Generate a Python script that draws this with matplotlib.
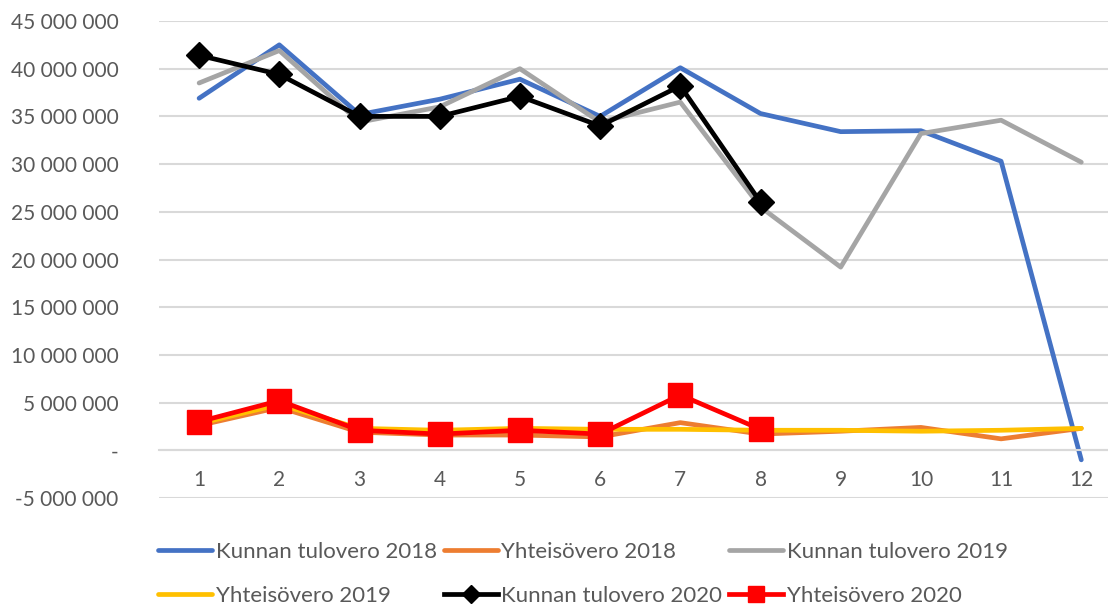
import matplotlib
matplotlib.use("Agg")
import matplotlib.pyplot as plt
from matplotlib.ticker import FuncFormatter

plt.rcParams['font.family'] = ['Lato', 'DejaVu Sans']

months = [1, 2, 3, 4, 5, 6, 7, 8, 9, 10, 11, 12]

# values (euros)
kunnan_2018 = [36.9e6, 42.5e6, 35.2e6, 36.8e6, 38.9e6, 35.0e6, 40.1e6, 35.3e6, 33.4e6, 33.5e6, 30.3e6, -1.0e6]
yhteis_2018 = [2.6e6, 4.5e6, 1.9e6, 1.6e6, 1.6e6, 1.4e6, 2.9e6, 1.7e6, 2.0e6, 2.4e6, 1.2e6, 2.3e6]
kunnan_2019 = [38.5e6, 41.9e6, 34.4e6, 36.0e6, 40.0e6, 34.4e6, 36.5e6, 25.5e6, 19.2e6, 33.2e6, 34.6e6, 30.2e6]
yhteis_2019 = [2.8e6, 4.8e6, 2.3e6, 2.1e6, 2.3e6, 2.2e6, 2.2e6, 2.1e6, 2.1e6, 2.0e6, 2.1e6, 2.3e6]
kunnan_2020 = [41.4e6, 39.4e6, 35.0e6, 35.0e6, 37.1e6, 34.0e6, 38.2e6, 26.0e6]
yhteis_2020 = [3.0e6, 5.2e6, 2.1e6, 1.7e6, 2.1e6, 1.7e6, 5.8e6, 2.2e6]

fig = plt.figure(figsize=(11.08, 6.08), dpi=100)
ax = fig.add_axes([159 / 1108, 110 / 608, 949 / 1108, 477 / 608])

lw = 3.4
l1, = ax.plot(months, kunnan_2018, color='#4472C4', lw=lw, label='Kunnan tulovero 2018', solid_capstyle='round')
l2, = ax.plot(months, yhteis_2018, color='#ED7D31', lw=lw, label='Yhteisövero 2018', solid_capstyle='round')
l3, = ax.plot(months, kunnan_2019, color='#A5A5A5', lw=lw, label='Kunnan tulovero 2019', solid_capstyle='round')
l4, = ax.plot(months, yhteis_2019, color='#FFC000', lw=lw, label='Yhteisövero 2019', solid_capstyle='round')
l5, = ax.plot(months[:8], kunnan_2020, color='black', lw=lw, marker='D', markersize=13,
              label='Kunnan tulovero 2020')
l6, = ax.plot(months[:8], yhteis_2020, color='#FF0000', lw=lw, marker='s', markersize=17,
              label='Yhteisövero 2020')

ax.set_xlim(0.5, 0.5 + 949 / 80.2)
ax.set_ylim(-5e6, 45e6)
ax.set_yticks(range(-5000000, 45000001, 5000000))
ax.set_xticks(months)


def fmt(v, pos):
    if v == 0:
        return '-'
    return f'{int(v):,}'.replace(',', ' ')


ax.yaxis.set_major_formatter(FuncFormatter(fmt))
ax.grid(axis='y', color='#D9D9D9', lw=1.5)
ax.set_axisbelow(True)
for s in ['top', 'right', 'left']:
    ax.spines[s].set_visible(False)
ax.spines['bottom'].set_position(('data', 0))
ax.spines['bottom'].set_color('#D9D9D9')
ax.spines['bottom'].set_linewidth(1.5)
ax.tick_params(axis='both', length=0, labelsize=15, labelcolor='#595959')
ax.tick_params(axis='y', pad=29)
ax.tick_params(axis='x', pad=14)

# legend laid out row by row as in the original
handles = [l1, l4, l2, l5, l3, l6]
fig.legend(handles=handles, labels=[h.get_label() for h in handles], ncol=3,
           loc='center left', bbox_to_anchor=(138 / 1108, 1 - 574 / 608),
           frameon=False, fontsize=16, labelcolor='#595959',
           handlelength=2.45, handletextpad=0.15, columnspacing=0.3,
           labelspacing=1.1, markerscale=0.7)

fig.savefig('out.png', dpi=100)
